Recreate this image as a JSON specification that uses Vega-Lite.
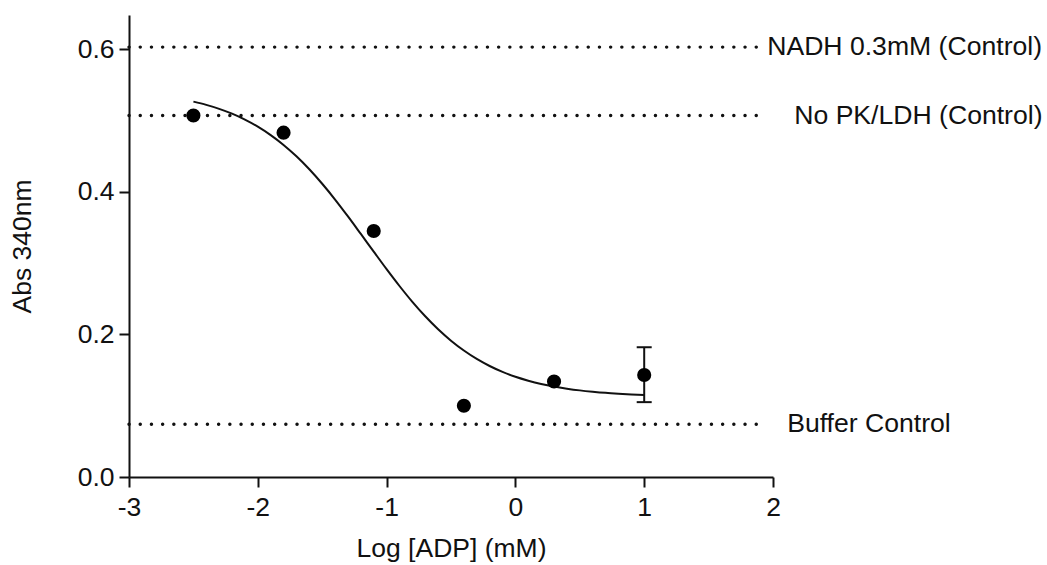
{
  "$schema": "https://vega.github.io/schema/vega-lite/v6.json",
  "width": 644,
  "height": 462,
  "autosize": {"type": "none"},
  "padding": {"left": 129, "top": 15, "right": 274, "bottom": 88},
  "background": "white",
  "config": {
    "view": {"stroke": null},
    "font": "Liberation Sans",
    "axis": {
      "domainColor": "#111",
      "domainWidth": 2,
      "tickColor": "#111",
      "tickWidth": 2,
      "tickSize": 10,
      "grid": false,
      "labelFlush": false,
      "labelFont": "Liberation Sans",
      "labelFontSize": 26.5,
      "labelColor": "#111",
      "titleFont": "Liberation Sans",
      "titleFontSize": 26.5,
      "titleFontWeight": "normal",
      "titleColor": "#111"
    }
  },
  "datasets": {
    "controls": [
      {"label": "NADH 0.3mM (Control)", "val": 0.603, "xs": -3, "xe": 1.93, "lx": 1.955},
      {"label": "No PK/LDH (Control)", "val": 0.507, "xs": -3, "xe": 1.93, "lx": 2.165},
      {"label": "Buffer Control", "val": 0.074, "xs": -3, "xe": 1.94, "lx": 2.11}
    ],
    "points": [
      {"logadp": -2.5, "abs": 0.507},
      {"logadp": -1.8, "abs": 0.483},
      {"logadp": -1.1, "abs": 0.345},
      {"logadp": -0.4, "abs": 0.1},
      {"logadp": 0.3, "abs": 0.134},
      {"logadp": 1.0, "abs": 0.143}
    ],
    "err": [
      {"logadp": 1.0, "lo": 0.105, "hi": 0.182}
    ],
    "curve": [
      {"logadp": -2.5, "abs": 0.5265},
      {"logadp": -2.4, "abs": 0.5219},
      {"logadp": -2.3, "abs": 0.5164},
      {"logadp": -2.2, "abs": 0.5096},
      {"logadp": -2.1, "abs": 0.5013},
      {"logadp": -2.0, "abs": 0.4914},
      {"logadp": -1.9, "abs": 0.4796},
      {"logadp": -1.8, "abs": 0.4658},
      {"logadp": -1.7, "abs": 0.4498},
      {"logadp": -1.6, "abs": 0.4316},
      {"logadp": -1.5, "abs": 0.4113},
      {"logadp": -1.4, "abs": 0.3892},
      {"logadp": -1.3, "abs": 0.3655},
      {"logadp": -1.2, "abs": 0.3409},
      {"logadp": -1.1, "abs": 0.3161},
      {"logadp": -1.0, "abs": 0.2915},
      {"logadp": -0.9, "abs": 0.2679},
      {"logadp": -0.8, "abs": 0.2457},
      {"logadp": -0.7, "abs": 0.2254},
      {"logadp": -0.6, "abs": 0.2072},
      {"logadp": -0.5, "abs": 0.1912},
      {"logadp": -0.4, "abs": 0.1774},
      {"logadp": -0.3, "abs": 0.1656},
      {"logadp": -0.2, "abs": 0.1557},
      {"logadp": -0.1, "abs": 0.1474},
      {"logadp": 0.0, "abs": 0.1406},
      {"logadp": 0.1, "abs": 0.1351},
      {"logadp": 0.2, "abs": 0.1305},
      {"logadp": 0.3, "abs": 0.1268},
      {"logadp": 0.4, "abs": 0.1239},
      {"logadp": 0.5, "abs": 0.1215},
      {"logadp": 0.6, "abs": 0.1196},
      {"logadp": 0.7, "abs": 0.118},
      {"logadp": 0.8, "abs": 0.1168},
      {"logadp": 0.9, "abs": 0.1158},
      {"logadp": 1.0, "abs": 0.115}
    ]
  },
  "layer": [
    {
      "data": {"name": "controls"},
      "mark": {"type": "rule", "color": "#111", "strokeWidth": 3.4, "strokeDash": [0.1, 11.1], "strokeCap": "round"},
      "encoding": {
        "x": {"field": "xs", "type": "quantitative",
          "scale": {"domain": [-3, 2], "nice": false, "zero": false},
          "axis": {"title": "Log [ADP] (mM)", "values": [-3, -2, -1, 0, 1, 2], "labelExpr": "toString(datum.value)", "labelPadding": 7, "titlePadding": 15}},
        "x2": {"field": "xe"},
        "y": {"field": "val", "type": "quantitative",
          "scale": {"domain": [0, 0.648], "nice": false, "zero": false},
          "axis": {"title": "Abs 340nm", "values": [0, 0.2, 0.4, 0.6], "format": ".1f", "labelPadding": 5, "titlePadding": 41}}
      }
    },
    {
      "data": {"name": "controls"},
      "mark": {"type": "text", "align": "left", "baseline": "middle", "fontSize": 26.6, "color": "#111", "font": "Liberation Sans", "clip": false},
      "encoding": {
        "x": {"field": "lx", "type": "quantitative"},
        "y": {"field": "val", "type": "quantitative"},
        "text": {"field": "label", "type": "nominal"}
      }
    },
    {
      "data": {"name": "curve"},
      "mark": {"type": "line", "color": "#111", "strokeWidth": 2, "interpolate": "monotone"},
      "encoding": {
        "x": {"field": "logadp", "type": "quantitative"},
        "y": {"field": "abs", "type": "quantitative"}
      }
    },
    {
      "data": {"name": "err"},
      "mark": {"type": "rule", "color": "#111", "strokeWidth": 2},
      "encoding": {
        "x": {"field": "logadp", "type": "quantitative"},
        "y": {"field": "lo", "type": "quantitative"},
        "y2": {"field": "hi"}
      }
    },
    {
      "data": {"name": "err"},
      "mark": {"type": "tick", "orient": "horizontal", "color": "#111", "size": 15, "thickness": 2, "opacity": 1},
      "encoding": {
        "x": {"field": "logadp", "type": "quantitative"},
        "y": {"field": "lo", "type": "quantitative"}
      }
    },
    {
      "data": {"name": "err"},
      "mark": {"type": "tick", "orient": "horizontal", "color": "#111", "size": 15, "thickness": 2, "opacity": 1},
      "encoding": {
        "x": {"field": "logadp", "type": "quantitative"},
        "y": {"field": "hi", "type": "quantitative"}
      }
    },
    {
      "data": {"name": "points"},
      "mark": {"type": "circle", "color": "#000", "opacity": 1, "size": 200},
      "encoding": {
        "x": {"field": "logadp", "type": "quantitative"},
        "y": {"field": "abs", "type": "quantitative"}
      }
    }
  ]
}
